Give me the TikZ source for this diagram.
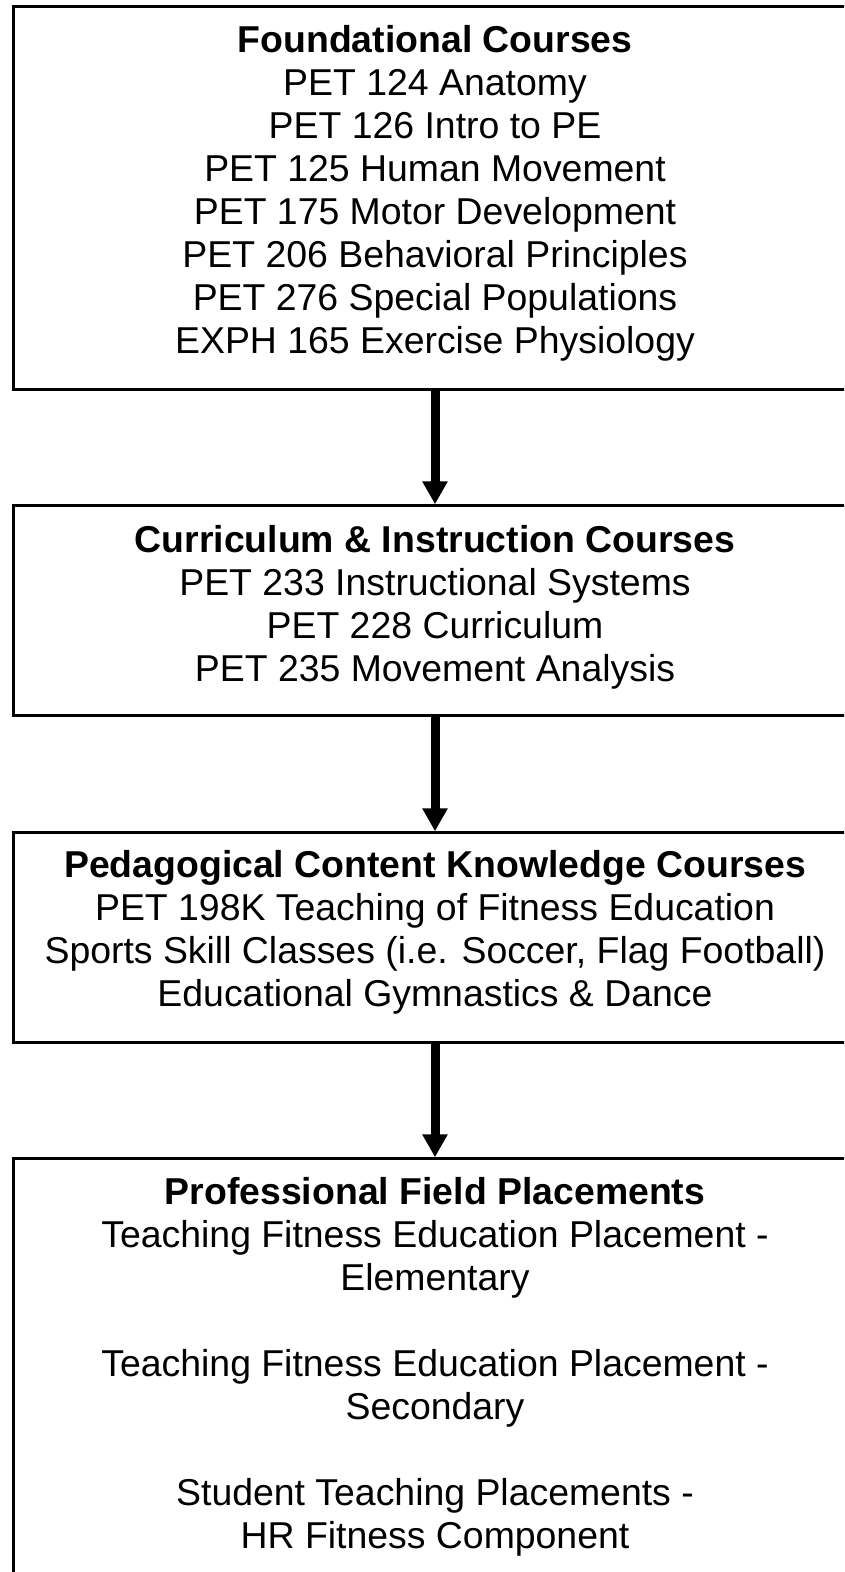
\documentclass[tikz,border=0pt]{standalone}
\usepackage{fontspec}
\setmainfont{Liberation Sans}
\usetikzlibrary{arrows.meta}
\newcommand{\firstline}{\rule{0pt}{30pt}}
\begin{document}
\begin{tikzpicture}[x=1pt,y=-1pt,
  coursebox/.style={draw=black, line width=2.5pt, rectangle, inner sep=0pt, minimum width=843pt},
  boxtext/.style={anchor=north, inner sep=0pt, align=center, font=\fontsize{37.4}{43}\selectfont},
  flow/.style={line width=9pt, -{Triangle[width=24pt,length=23pt]}}]
  \useasboundingbox (0,0) rectangle (844,1572);
  \clip (0,0) rectangle (844,1572);

  % course boxes
  \node[coursebox, minimum height=383pt] (b1) at (435,198) {};
  \node[coursebox, minimum height=210pt] (b2) at (435,610.5) {};
  \node[coursebox, minimum height=210pt] (b3) at (435,937.5) {};
  \node[coursebox, minimum height=441.5pt] (b4) at (435,1379.25) {};

  % box contents
  \node[boxtext] (t1) at (435,22.5) {\firstline\textbf{Foundational Courses}\\
    PET 124 Anatomy\\
    PET 126 Intro to PE\\
    PET 125 Human Movement\\
    PET 175 Motor Development\\
    PET 206 Behavioral Principles\\
    PET 276 Special Populations\\
    EXPH 165 Exercise Physiology};
  \node[boxtext] (t2) at (435,522) {\firstline\textbf{Curriculum \& Instruction Courses}\\
    PET 233 Instructional Systems\\
    PET 228 Curriculum\\
    PET 235 Movement Analysis};
  \node[boxtext] (t3) at (435,847) {\firstline\textbf{Pedagogical Content Knowledge Courses}\\
    PET 198K Teaching of Fitness Education\\
    Sports Skill Classes (i.e. Soccer, Flag Football)\\
    Educational Gymnastics \& Dance};
  \node[boxtext] (t4) at (435,1174) {\firstline\textbf{Professional Field Placements}\\
    Teaching Fitness Education Placement -\\
    Elementary\\[43pt]
    Teaching Fitness Education Placement -\\
    Secondary\\[43pt]
    Student Teaching Placements -\\
    HR Fitness Component};

  % sequence arrows
  \draw[flow] (b1.south) -- (b2.north);
  \draw[flow] (b2.south) -- (b3.north);
  \draw[flow] (b3.south) -- (b4.north);
\end{tikzpicture}
\end{document}
